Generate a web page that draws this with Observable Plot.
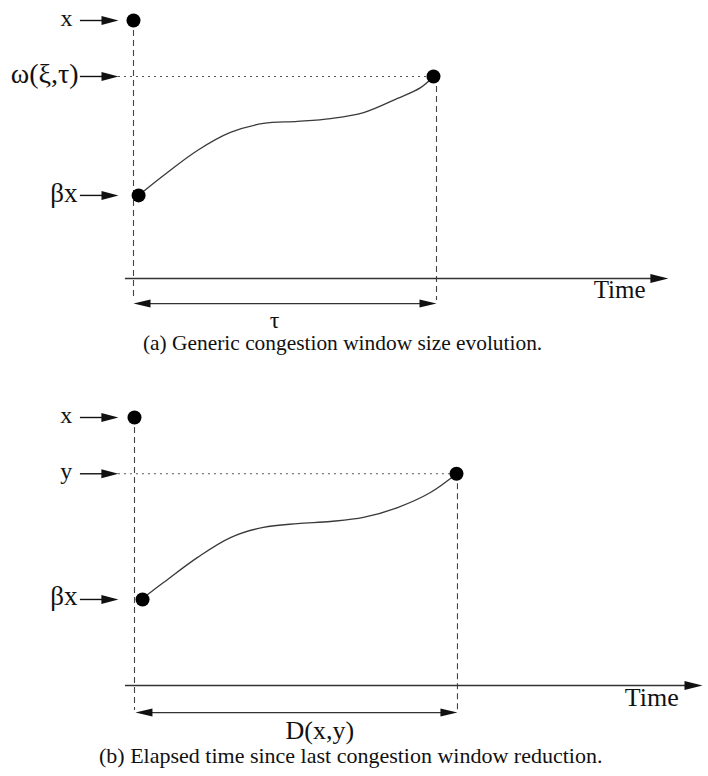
<!DOCTYPE html>
<html><head><meta charset="utf-8">
<script src="https://cdn.jsdelivr.net/npm/d3@7"></script>
<script src="https://cdn.jsdelivr.net/npm/@observablehq/plot@0.6"></script>
<style>
body{margin:0;background:#fff;}
#wrap{position:relative;width:708px;height:776px;overflow:hidden;font-family:"Liberation Serif","DejaVu Serif",serif;background:#fff;}
.panel{position:absolute;left:0;}
.cap{position:absolute;font-family:"Liberation Serif","Times New Roman",serif;line-height:21px;white-space:nowrap;color:#111;}
</style></head><body><div id="wrap"></div>
<script>
// ---------- Panel (a) data ----------
const levelLabelsA = ["x", "ω(ξ,τ)", "βx"];
const levelValuesA = [100, 78.3, 32.2];
const curveTimeA   = [0.17, 1.0, 2.13, 3.23, 4.33, 5.47, 6.57, 7.67, 8.8, 9.57, 10];
const curveWindowA = [32.2, 39.9, 49.6, 56.6, 60.1, 60.9, 62.0, 64.3, 69.8, 74.0, 78.3];
const pointTimeA   = [0, 0.17, 10];
const pointWindowA = [100, 32.2, 78.3];
const spanLabelA   = "τ";
const captionA     = "(a) Generic congestion window size evolution.";

// ---------- Panel (b) data ----------
const levelLabelsB = ["x", "y", "βx"];
const levelValuesB = [100, 79, 32.1];
const curveTimeB   = [0.25, 0.9, 1.96, 2.98, 4.0, 5.06, 6.09, 7.11, 8.17, 9.19, 10];
const curveWindowB = [32.5, 38.4, 47.8, 55.2, 59.0, 60.4, 61.2, 62.7, 66.4, 72.0, 79];
const pointTimeB   = [0, 0.25, 10];
const pointWindowB = [100, 32.1, 79];
const spanLabelB   = "D(x,y)";
const captionB     = "(b) Elapsed time since last congestion window reduction.";

const axisLabel = "Time";

function head(len, hw) {
  return {draw(ctx) { ctx.moveTo(0, 0); ctx.lineTo(-len, -hw); ctx.lineTo(-len, hw); ctx.closePath(); }};
}

function panel(d, L) {
  const levels = d.labels.map((s, i) => ({s, w: d.levels[i], end: L.labelEnd[i], base: L.labelBase[i], fs: L.labelSize[i]}));
  const curve = d.ct.map((t, i) => ({t, w: d.cw[i]}));
  const pts = d.pt.map((t, i) => ({t, w: d.pw[i]}));
  const tau = d.pt[2], wEnd = d.pw[2], wTop = d.pw[0];
  const ink = "#333";
  return Plot.plot({
    width: 708, height: L.height,
    margin: 0,
    x: {domain: [0, 10], range: L.xr, axis: null},
    y: {domain: [0, 100], range: L.yr, axis: null},
    style: {fontFamily: '"Liberation Serif", serif', background: "transparent", overflow: "visible"},
    marks: [
      Plot.ruleX([{t: 0, a: wTop, b: L.dashBottom}, {t: tau + L.rightDash, a: wEnd, b: L.dashBottom}],
        {x: "t", y1: "a", y2: "b", stroke: "#444", strokeWidth: 1.1, strokeDasharray: "6,4"}),
      Plot.ruleY([{w: wEnd}], {y: "w", x1: L.arrowTip, x2: tau, stroke: "#555", strokeWidth: 1.1, strokeDasharray: "2,4"}),
      Plot.ruleY(levels, {y: "w", x1: L.arrowStart, x2: L.arrowTip - 0.3, stroke: "#111", strokeWidth: 1.4}),
      Plot.dot(levels, {x: () => L.arrowTip, y: "w", symbol: head(17, 4.5), fill: "#111", stroke: "none"}),
      ...levels.map(l => Plot.text([l], {x: () => l.end, y: () => l.base, text: "s", textAnchor: "end", lineAnchor: "bottom", fontSize: l.fs, fill: "#111"})),
      Plot.ruleY([0], {x1: L.axisStart, x2: L.axisEnd - 0.3, stroke: ink, strokeWidth: 1.3}),
      Plot.dot([0], {x: () => L.axisEnd, y: () => 0, symbol: head(18, 4.5), fill: "#111", stroke: "none"}),
      Plot.text([axisLabel], {x: () => L.timeEnd, y: () => L.timeBase, text: d => d, textAnchor: "end", lineAnchor: "bottom", fontSize: L.timeSize, fill: "#111"}),
      Plot.ruleY([L.spanW], {x1: L.spanStart + 0.3, x2: tau + L.rightDash - 0.3, stroke: ink, strokeWidth: 1.3}),
      Plot.dot([0], {x: () => tau + L.rightDash, y: () => L.spanW, symbol: head(17, 4), fill: "#111", stroke: "none"}),
      Plot.dot([0], {x: () => L.spanStart, y: () => L.spanW, symbol: head(17, 4), rotate: 180, fill: "#111", stroke: "none"}),
      Plot.text([d.span], {x: () => L.spanX, y: () => L.spanBase, text: d => d, textAnchor: L.spanAnchor, lineAnchor: "bottom", fontSize: L.spanSize, fill: "#111"}),
      Plot.line(curve, {x: "t", y: "w", curve: "catmull-rom", stroke: "#3a3a3a", strokeWidth: 1.3}),
      Plot.dot(pts, {x: "t", y: "w", r: 7, fill: "#000", stroke: "none"})
    ]
  });
}

const wrap = document.getElementById("wrap");

const svgA = panel(
  {labels: levelLabelsA, levels: levelValuesA, ct: curveTimeA, cw: curveWindowA, pt: pointTimeA, pw: pointWindowA, span: spanLabelA},
  {height: 332, xr: [133, 433], yr: [278, 20],
   labelEnd: [-2.03, -1.83, -1.87], labelBase: [97.9, 75.6, 29.8], labelSize: [24, 28, 27],
   arrowStart: -1.77, arrowTip: -0.5, dashBottom: -8.5, rightDash: 0.1,
   axisStart: -0.27, axisEnd: 17.83, timeEnd: 17.07, timeBase: -7.75, timeSize: 25,
   spanW: -9.7, spanStart: 0, spanX: 4.7, spanBase: -19.2, spanAnchor: "middle", spanSize: 24});
svgA.classList.add("panel"); svgA.style.top = "0px";
wrap.appendChild(svgA);

const capA = document.createElement("div");
capA.className = "cap"; capA.textContent = captionA;
capA.style.fontSize = "21.4px"; capA.style.left = "143px"; capA.style.top = "333px";
wrap.appendChild(capA);

const svgB = panel(
  {labels: levelLabelsB, levels: levelValuesB, ct: curveTimeB, cw: curveWindowB, pt: pointTimeB, pw: pointWindowB, span: spanLabelB},
  {height: 392, xr: [134, 456], yr: [333, 65],
   labelEnd: [-1.93, -1.93, -1.77], labelBase: [98.1, 77.2, 29.9], labelSize: [24, 24, 27],
   arrowStart: -1.68, arrowTip: -0.5, dashBottom: -9.3, rightDash: 0.03,
   axisStart: -0.28, axisEnd: 17.64, timeEnd: 16.9, timeBase: -7.5, timeSize: 26,
   spanW: -10.1, spanStart: 0.03, spanX: 4.69, spanBase: -19.8, spanAnchor: "start", spanSize: 26});
svgB.classList.add("panel"); svgB.style.top = "352px";
wrap.appendChild(svgB);

const capB = document.createElement("div");
capB.className = "cap"; capB.textContent = captionB;
capB.style.fontSize = "22px"; capB.style.left = "99px"; capB.style.top = "745px";
wrap.appendChild(capB);
</script>
</body></html>
